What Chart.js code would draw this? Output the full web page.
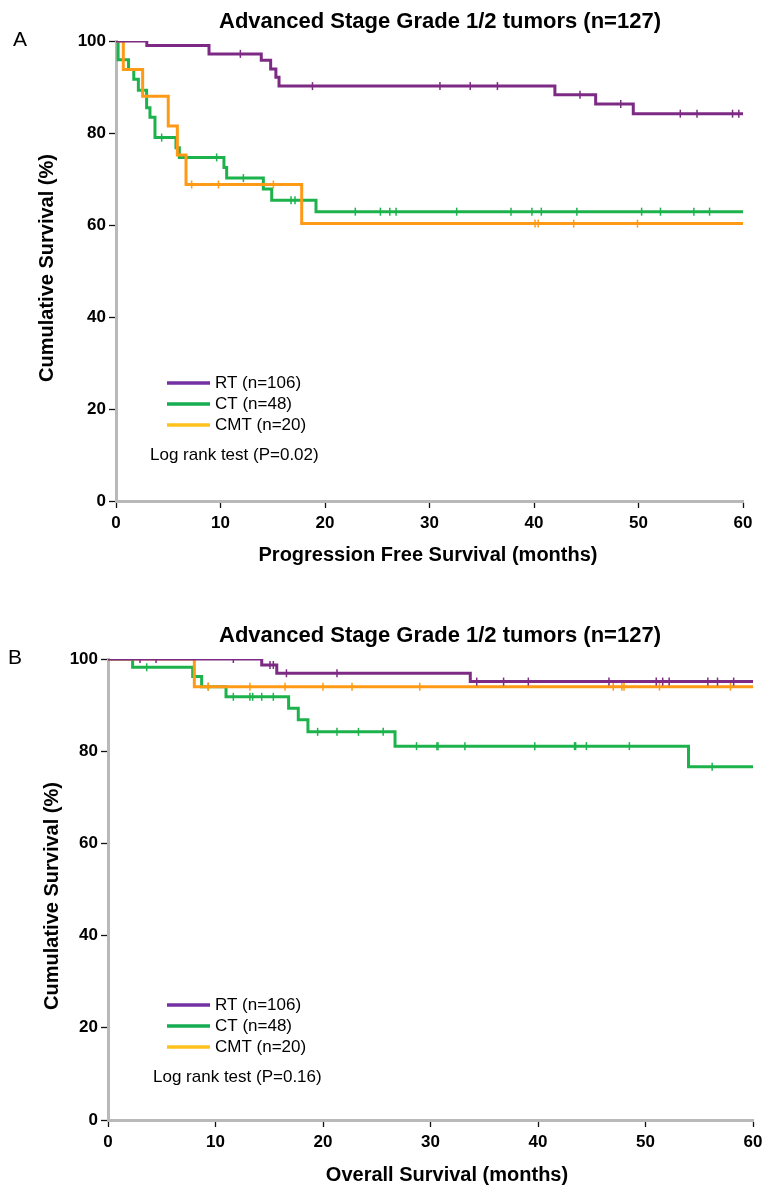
<!DOCTYPE html>
<html>
<head>
<meta charset="utf-8">
<title>Advanced Stage Grade 1/2 tumors</title>
<script src="https://cdn.jsdelivr.net/npm/chart.js@4.4.1/dist/chart.umd.min.js"></script>
<style>
  html, body { margin: 0; padding: 0; background: #fff; }
  #wrap { position: relative; width: 771px; height: 1195px; }
  .panel { position: absolute; left: 0; width: 771px; height: 595px; }
</style>
</head>
<body>
<div id="wrap">
  <div class="panel" style="top:0"><canvas id="pfsChart" width="771" height="595"></canvas></div>
  <div class="panel" style="top:600px"><canvas id="osChart" width="771" height="595"></canvas></div>
</div>
<script>
// groups
const seriesLabels = ["RT (n=106)", "CT (n=48)", "CMT (n=20)"];
const xTickValues = [0, 10, 20, 30, 40, 50, 60];
const yTickValues = [0, 20, 40, 60, 80, 100];

// Panel A - progression free survival: month of each step and level after it (%)
const pfsRtMonths = [0, 2.95, 8.9, 13.9, 14.8, 15.3, 15.6, 42.0, 45.9, 49.5, 60];
const pfsRtSurv   = [100, 99.0, 97.2, 95.8, 93.9, 92.1, 90.2, 88.3, 86.3, 84.2, 84.2];
const pfsRtCensor = [11.9, 18.8, 31.0, 33.9, 36.5, 44.4, 48.3, 54.0, 55.6, 59.0, 59.6];

const pfsCtMonths = [0, 0.2, 1.2, 1.7, 2.14, 2.93, 3.25, 3.73, 5.74, 6.06, 10.33, 10.59, 14.1, 14.9, 19.14, 60];
const pfsCtSurv   = [100, 95.9, 93.8, 91.7, 89.3, 85.5, 83.4, 79.0, 76.8, 74.7, 72.5, 70.2, 67.8, 65.4, 62.9, 62.9];
const pfsCtCensor = [4.37, 9.63, 12.19, 16.75, 17.13, 22.9, 25.3, 26.2, 26.8, 32.6, 37.8, 39.8, 40.7, 44.1, 50.3, 52.1, 55.3, 56.8];

const pfsCmtMonths = [0, 0.7, 2.55, 5.0, 5.87, 6.7, 17.77, 60];
const pfsCmtSurv   = [100, 93.8, 88.0, 81.5, 75.2, 68.8, 60.3, 60.3];
const pfsCmtCensor = [7.24, 9.8, 15.06, 40.1, 40.4, 43.8, 49.9];

// Panel B - overall survival
const osRtMonths = [0, 14.3, 15.7, 33.7, 60];
const osRtSurv   = [100, 98.7, 96.9, 95.1, 95.1];
const osRtCensor = [2.98, 4.47, 11.66, 15.07, 15.38, 16.6, 21.3, 34.3, 36.8, 39.1, 46.6, 51.0, 51.6, 52.2, 55.8, 56.7, 58.2];

const osCtMonths = [0, 2.29, 7.88, 8.71, 10.98, 16.8, 17.7, 18.6, 26.7, 54.0, 60];
const osCtSurv   = [100, 98.2, 96.2, 94.0, 91.8, 89.3, 86.8, 84.2, 81.1, 76.6, 76.6];
const osCtCensor = [3.6, 9.33, 11.66, 13.2, 13.46, 14.3, 15.38, 19.5, 21.3, 23.3, 25.6, 28.7, 30.6, 30.7, 33.2, 39.7, 43.4, 43.5, 44.5, 48.5, 56.2];

const osCmtMonths = [0, 8.03, 60];
const osCmtSurv   = [100, 94.0, 94.0];
const osCmtCensor = [9.33, 13.2, 16.47, 20.0, 22.7, 29.0, 47.0, 47.8, 48.0, 51.3, 57.9];

const curveColors  = ["#7d2a84", "#1cb34c", "#ff9a17"];
const legendColors = ["#7431a3", "#14ad52", "#ffc21c"];
const FONT = "'Liberation Sans', Arial, sans-serif";

function levelAt(months, surv, t) {
  let s = surv[0];
  for (let i = 0; i < months.length; i++) if (months[i] <= t) s = surv[i];
  return s;
}

function curve(label, months, surv, color, order) {
  return {
    label: label,
    data: months.map((m, i) => ({ x: m, y: surv[i] })),
    borderColor: color,
    borderWidth: 3,
    stepped: true,
    pointRadius: 0,
    fill: false,
    order: order,
    clip: { left: 2, top: 0, right: 2, bottom: 2 },
  };
}

function marks(months, surv, censor, color, order) {
  return {
    data: censor.map(t => ({ x: t, y: levelAt(months, surv, t) })),
    showLine: false,
    pointStyle: "line",
    rotation: 90,
    pointRadius: 4,
    pointHoverRadius: 4,
    borderColor: color,
    borderWidth: 1.5,
    order: order,
  };
}

const overlay = {
  id: "overlay",
  afterDraw(chart, args, o) {
    const ctx = chart.ctx;
    ctx.save();
    ctx.fillStyle = "#000";
    ctx.textBaseline = "middle";

    ctx.font = "21px " + FONT;
    ctx.textAlign = "center";
    ctx.fillText(o.letter, o.letterPos[0], o.letterPos[1]);

    ctx.font = "bold 22px " + FONT;
    ctx.fillText(o.title, o.titlePos[0], o.titlePos[1]);

    ctx.font = "bold 20px " + FONT;
    ctx.fillText(o.xTitle, o.xTitlePos[0], o.xTitlePos[1]);

    ctx.save();
    ctx.translate(o.yTitlePos[0], o.yTitlePos[1]);
    ctx.rotate(-Math.PI / 2);
    ctx.fillText("Cumulative Survival (%)", 0, 0);
    ctx.restore();

    ctx.font = "17px " + FONT;
    ctx.textAlign = "left";
    seriesLabels.forEach((lab, i) => {
      const y = o.legendPos[1] + i * o.legendGap;
      ctx.strokeStyle = legendColors[i];
      ctx.lineWidth = 3.5;
      ctx.beginPath();
      ctx.moveTo(o.legendPos[0], y);
      ctx.lineTo(o.legendPos[0] + 43, y);
      ctx.stroke();
      ctx.fillText(lab, o.legendPos[0] + 48, y);
    });
    ctx.fillText(o.logText, o.logPos[0], o.logPos[1]);
    ctx.restore();
  },
};

function kmChart(id, sets, area, text) {
  const [rtM, rtS, rtC, ctM, ctS, ctC, cmM, cmS, cmC] = sets;
  return new Chart(document.getElementById(id), {
    type: "line",
    data: {
      datasets: [
        curve(seriesLabels[0], rtM, rtS, curveColors[0], 0),
        marks(rtM, rtS, rtC, curveColors[0], 0),
        curve(seriesLabels[2], cmM, cmS, curveColors[2], 1),
        marks(cmM, cmS, cmC, curveColors[2], 1),
        curve(seriesLabels[1], ctM, ctS, curveColors[1], 2),
        marks(ctM, ctS, ctC, curveColors[1], 2),
      ],
    },
    options: {
      responsive: false,
      animation: false,
      events: [],
      layout: { padding: { left: 0, top: area.top, right: 771 - area.right, bottom: 595 - area.bottom - 40 } },
      plugins: { legend: { display: false }, tooltip: { enabled: false }, overlay: text },
      scales: {
        x: {
          type: "linear",
          min: 0,
          max: 60,
          afterFit: s => { s.height = 40; },
          afterBuildTicks: s => { s.ticks = xTickValues.map(v => ({ value: v })); },
          grid: { drawOnChartArea: false, tickColor: "#111", tickLength: 7, tickWidth: 1.3 },
          border: { display: true, color: "#b9b9b9", width: 3 },
          ticks: { color: "#000", padding: 5, maxRotation: 0, font: { family: FONT, size: 17, weight: "bold" } },
        },
        y: {
          min: 0,
          max: 100,
          afterFit: s => { s.width = area.left; },
          afterBuildTicks: s => { s.ticks = yTickValues.map(v => ({ value: v })); },
          grid: { drawOnChartArea: false, tickColor: "#111", tickLength: 7, tickWidth: 1.3 },
          border: { display: true, color: "#b9b9b9", width: 3 },
          ticks: { color: "#000", padding: 3, font: { family: FONT, size: 17, weight: "bold" } },
        },
      },
    },
    plugins: [overlay],
  });
}

kmChart("pfsChart",
  [pfsRtMonths, pfsRtSurv, pfsRtCensor, pfsCtMonths, pfsCtSurv, pfsCtCensor, pfsCmtMonths, pfsCmtSurv, pfsCmtCensor],
  { left: 116, top: 41, right: 743, bottom: 501 },
  {
    letter: "A", letterPos: [20, 40],
    title: "Advanced Stage Grade 1/2 tumors (n=127)", titlePos: [440, 22],
    xTitle: "Progression Free Survival (months)", xTitlePos: [428, 555],
    yTitlePos: [47, 268],
    legendPos: [167, 383], legendGap: 21,
    logText: "Log rank test (P=0.02)", logPos: [150, 455],
  });

kmChart("osChart",
  [osRtMonths, osRtSurv, osRtCensor, osCtMonths, osCtSurv, osCtCensor, osCmtMonths, osCmtSurv, osCmtCensor],
  { left: 108, top: 59, right: 753, bottom: 520 },
  {
    letter: "B", letterPos: [15, 58],
    title: "Advanced Stage Grade 1/2 tumors (n=127)", titlePos: [440, 36],
    xTitle: "Overall Survival (months)", xTitlePos: [447, 575],
    yTitlePos: [52, 296],
    legendPos: [167, 405], legendGap: 21,
    logText: "Log rank test (P=0.16)", logPos: [153, 477],
  });
</script>
</body>
</html>
